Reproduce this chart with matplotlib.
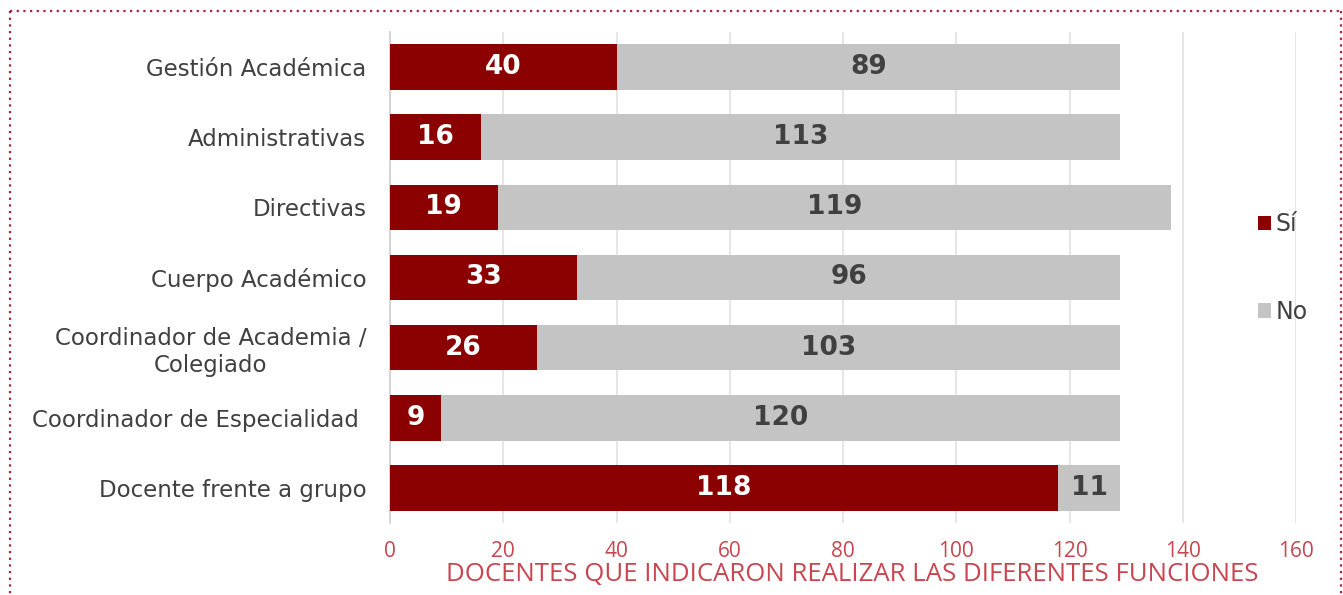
import matplotlib.pyplot as plt
from matplotlib.lines import Line2D

categorias = ["Gestión Académica", "Administrativas", "Directivas", "Cuerpo Académico",
              "Coordinador de Academia /\nColegiado", "Coordinador de Especialidad ",
              "Docente frente a grupo"]
si = [40, 16, 19, 33, 26, 9, 118]
no = [89, 113, 119, 96, 103, 120, 11]

rojo = "#8B0000"
gris = "#C4C4C4"
texto = "#404040"
rojo_eje = "#C9454F"

plt.rcParams['font.family'] = ['Open Sans', 'DejaVu Sans']
ancha = "DejaVu Sans"

fig = plt.figure(figsize=(13.43, 5.95), dpi=100)
ax = fig.add_axes([390 / 1343, 1 - 523 / 595, 906 / 1343, 491 / 595])

y = list(range(len(categorias)))
b1 = ax.barh(y, si, height=0.65, color=rojo, label="Sí", zorder=3)
b2 = ax.barh(y, no, left=si, height=0.65, color=gris, label="No", zorder=3)

for i in y:
    ax.text(si[i] / 2, i, str(si[i]), ha="center", va="center", color="white",
            fontsize=19, fontweight="bold", family=ancha, zorder=4)
    ax.text(si[i] + no[i] / 2, i, str(no[i]), ha="center", va="center", color=texto,
            fontsize=19, fontweight="bold", family=ancha, zorder=4)

ax.set_ylim(len(categorias) - 0.5, -0.5)
ax.set_xlim(0, 160)
ax.set_xticks(range(0, 161, 20))
ax.set_yticks(y)
ax.set_yticklabels(categorias, fontsize=16.5, color=texto, multialignment="center",
                   family=ancha)
ax.tick_params(axis="y", length=0, pad=17)
ax.tick_params(axis="x", length=0, pad=13, labelsize=15, labelcolor=rojo_eje)
ax.grid(axis="x", color="#E2E2E2", linewidth=1.2, zorder=0)
for s in ["top", "right", "bottom"]:
    ax.spines[s].set_visible(False)
ax.spines["left"].set_color("#D0D0D0")
ax.spines["left"].set_linewidth(1.2)
ax.set_xlabel("DOCENTES QUE INDICARON REALIZAR LAS DIFERENTES FUNCIONES",
              fontsize=18.5, color=rojo_eje)
ax.xaxis.set_label_coords(0.51, -0.08)

fig.legend(handles=[b1, b2], labels=["Sí", "No"], loc="center left",
           bbox_to_anchor=(1237 / 1343, 1 - 268 / 595), frameon=False,
           prop={"family": ancha, "size": 17}, labelcolor=texto,
           handlelength=0.55, handleheight=0.55, handletextpad=0.2, labelspacing=2.7)

# borde punteado
borde = "#A8203F"
for xs, ys in [([10, 1341], [11, 11]), ([10, 10], [11, 600]), ([1341, 1341], [11, 600])]:
    fig.add_artist(Line2D([x / 1343 for x in xs], [1 - v / 595 for v in ys],
                          transform=fig.transFigure, color=borde, linestyle=(0, (1, 2)),
                          linewidth=1.6))

fig.savefig("out.png", dpi=100)
